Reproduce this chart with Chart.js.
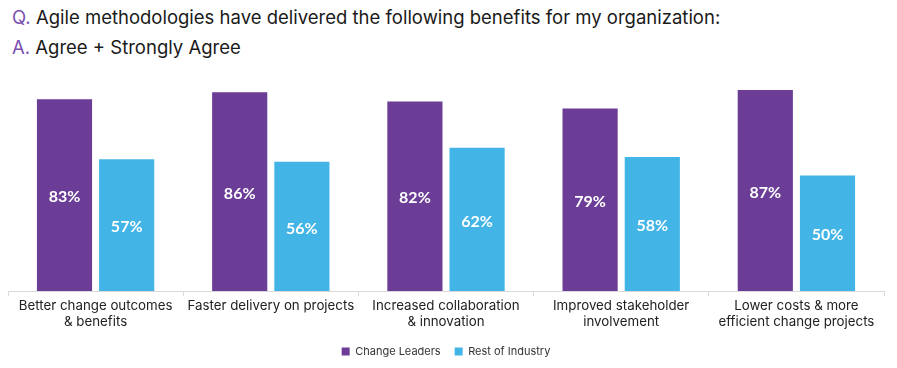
<!DOCTYPE html>
<html>
<head>
<meta charset="utf-8">
<script src="https://cdn.jsdelivr.net/npm/chart.js@4.4.1/dist/chart.umd.min.js"></script>
<style>
  body { margin: 0; background: #fff; font-family: Inter, "Open Sans", sans-serif; }
  #wrap { position: relative; width: 897px; height: 368px; }
  .head { position: absolute; left: 12px; font-size: 18.5px; color: #1a1a1a; }
  .head span { color: #7b4fb0; }
  #q { top: 6px; }
  #a { top: 36px; }
  canvas { position: absolute; left: 0; top: 0; }
</style>
</head>
<body>
<div id="wrap">
  <div class="head" id="q"><span>Q.</span> Agile methodologies have delivered the following benefits for my organization:</div>
  <div class="head" id="a"><span>A.</span> Agree + Strongly Agree</div>
  <canvas id="chart" width="897" height="368"></canvas>
</div>
<script>
const categories = [
  ['Better change outcomes', '& benefits'],
  'Faster delivery on projects',
  ['Increased collaboration', '& innovation'],
  ['Improved stakeholder', 'involvement'],
  ['Lower costs & more', 'efficient change projects']
];
const changeLeaders = [83, 86, 82, 79, 87];
const restOfIndustry = [57, 56, 62, 58, 50];

// draws the percentage in the middle of each bar
const barValues = {
  id: 'barValues',
  afterDatasetsDraw(chart) {
    const ctx = chart.ctx;
    ctx.save();
    ctx.fillStyle = '#fff';
    ctx.font = 'bold 16px Lato, sans-serif';
    ctx.textAlign = 'center';
    ctx.textBaseline = 'middle';
    chart.data.datasets.forEach((ds, i) => {
      chart.getDatasetMeta(i).data.forEach((bar, j) => {
        ctx.fillText(ds.data[j] + '%', bar.x, (bar.y + bar.base) / 2 + 2);
      });
    });
    ctx.restore();
  }
};

new Chart(document.getElementById('chart'), {
  type: 'bar',
  data: {
    labels: categories,
    datasets: [
      { label: 'Change Leaders', data: changeLeaders, backgroundColor: '#6b3d97' },
      { label: 'Rest of Industry', data: restOfIndustry, backgroundColor: '#42b4e6' }
    ]
  },
  options: {
    responsive: false,
    animation: false,
    categoryPercentage: 0.71,
    barPercentage: 0.887,
    layout: { padding: { top: 60, left: 8, right: 13, bottom: 1 } },
    plugins: {
      tooltip: { enabled: false },
      legend: {
        position: 'bottom',
        labels: {
          boxWidth: 8, boxHeight: 8, padding: 14,
          color: '#333',
          font: { size: 11, family: 'Inter, "Open Sans", sans-serif' }
        }
      }
    },
    scales: {
      y: { display: false, min: 0, max: 100 },
      x: {
        grid: { offset: true, drawOnChartArea: false, color: '#d9d9d9', tickLength: 5 },
        border: { color: '#d9d9d9' },
        ticks: {
          color: '#222', padding: 2,
          font: { size: 13.3, family: 'Inter, "Open Sans", sans-serif' }
        }
      }
    }
  },
  plugins: [barValues]
});
</script>
</body>
</html>
